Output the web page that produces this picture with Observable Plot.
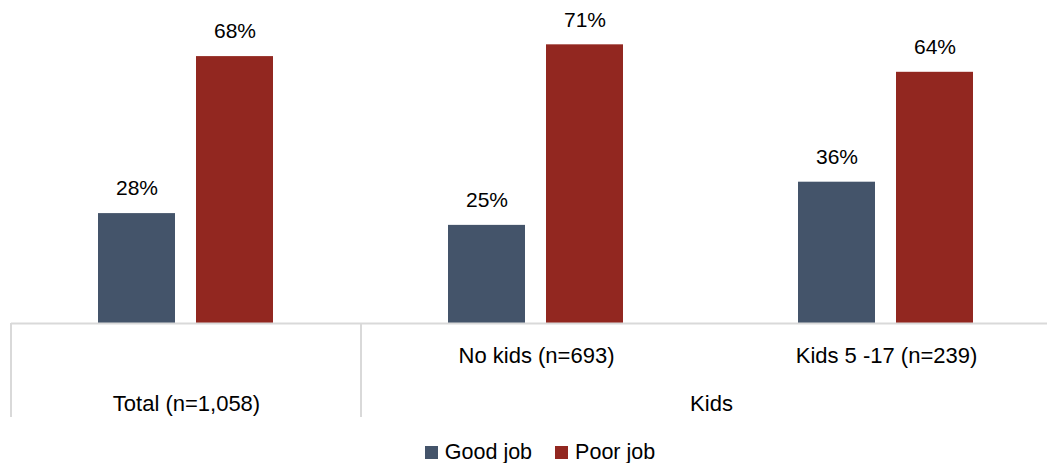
<!DOCTYPE html>
<html>
<head>
<meta charset="utf-8">
<script src="https://cdn.jsdelivr.net/npm/d3@7"></script>
<script src="https://cdn.jsdelivr.net/npm/@observablehq/plot@0.6"></script>
<style>
  html, body { margin: 0; padding: 0; background: #fff; }
  body { width: 1047px; height: 463px; overflow: hidden; font-family: "Liberation Sans", Arial, sans-serif; }
  #chart svg { display: block; }
  .legend { display: flex; justify-content: center; align-items: center; gap: 23px; padding-left: 33px; padding-top: 8px; font-size: 21.5px; color: #000; line-height: 24px; }
  .legend .item { display: flex; align-items: center; gap: 7px; }
  .legend .sw { width: 13px; height: 13px; display: inline-block; }
</style>
</head>
<body>
<div id="chart"></div>
<div class="legend" id="legend"></div>
<script>
const groups = ["Total (n=1,058)", "No kids (n=693)", "Kids 5 -17 (n=239)"];
const series = ["Good job", "Poor job"];
const goodJob = [28, 25, 36];
const poorJob = [68, 71, 64];
const colors = ["#44546A", "#922720"];
const outerLabel = "Kids";

const data = [];
groups.forEach((g, i) => {
  data.push({group: g, series: series[0], value: goodJob[i]});
  data.push({group: g, series: series[1], value: poorJob[i]});
});

const innerLabels = [
  {group: groups[1], label: groups[1]},
  {group: groups[2], label: groups[2]}
];
const totalLabel = [{group: groups[0], label: groups[0]}];
const kidsLabel = [{group: groups[1], label: outerLabel}];

const font = "Liberation Sans, Arial, sans-serif";

const plot = Plot.plot({
  width: 1047,
  height: 432,
  marginTop: 9,
  marginBottom: 109,
  marginLeft: 11,
  marginRight: 0,
  style: {fontFamily: font, fontSize: "21px", color: "#000", background: "#fff"},
  fx: {domain: groups, range: [11, 1061], padding: 0, axis: null},
  x: {domain: series, paddingInner: 0.212, paddingOuter: 0.874, align: 0.5, axis: null},
  y: {domain: [0, 80], axis: null},
  color: {domain: series, range: colors},
  marks: [
    Plot.barY(data, {fx: "group", x: "series", y: "value", fill: "series"}),
    Plot.text(data, {fx: "group", x: "series", y: "value", text: d => d.value + "%", dy: -25, fill: "#000", fontSize: 21}),
    Plot.ruleY([0], {stroke: "#d9d9d9", strokeWidth: 2}),
    Plot.text(innerLabels, {fx: "group", text: "label", frameAnchor: "bottom", lineAnchor: "middle", dy: 32, fill: "#000", fontSize: 22}),
    Plot.text(totalLabel, {fx: "group", text: "label", frameAnchor: "bottom", lineAnchor: "middle", dy: 80, fill: "#000", fontSize: 22}),
    Plot.text(kidsLabel, {fx: "group", text: "label", frameAnchor: "bottom", lineAnchor: "middle", dx: 175, dy: 80, fill: "#000", fontSize: 22})
  ]
});

document.getElementById("chart").appendChild(plot);

// separators of the multi-level category axis, placed with the plot's own scales
const fxS = plot.scale("fx");
const yS = plot.scale("y");
const y0 = yS.apply(0);
const svg = d3.select(plot);
[groups[0], groups[1]].forEach(g => {
  const xpos = fxS.apply(g);
  svg.append("line")
    .attr("x1", xpos).attr("x2", xpos)
    .attr("y1", y0).attr("y2", y0 + 94)
    .attr("stroke", "#d9d9d9").attr("stroke-width", 2);
});

const legend = d3.select("#legend");
series.forEach((s, i) => {
  const it = legend.append("div").attr("class", "item");
  it.append("span").attr("class", "sw").style("background", colors[i]);
  it.append("span").text(s);
});
</script>
</body>
</html>
